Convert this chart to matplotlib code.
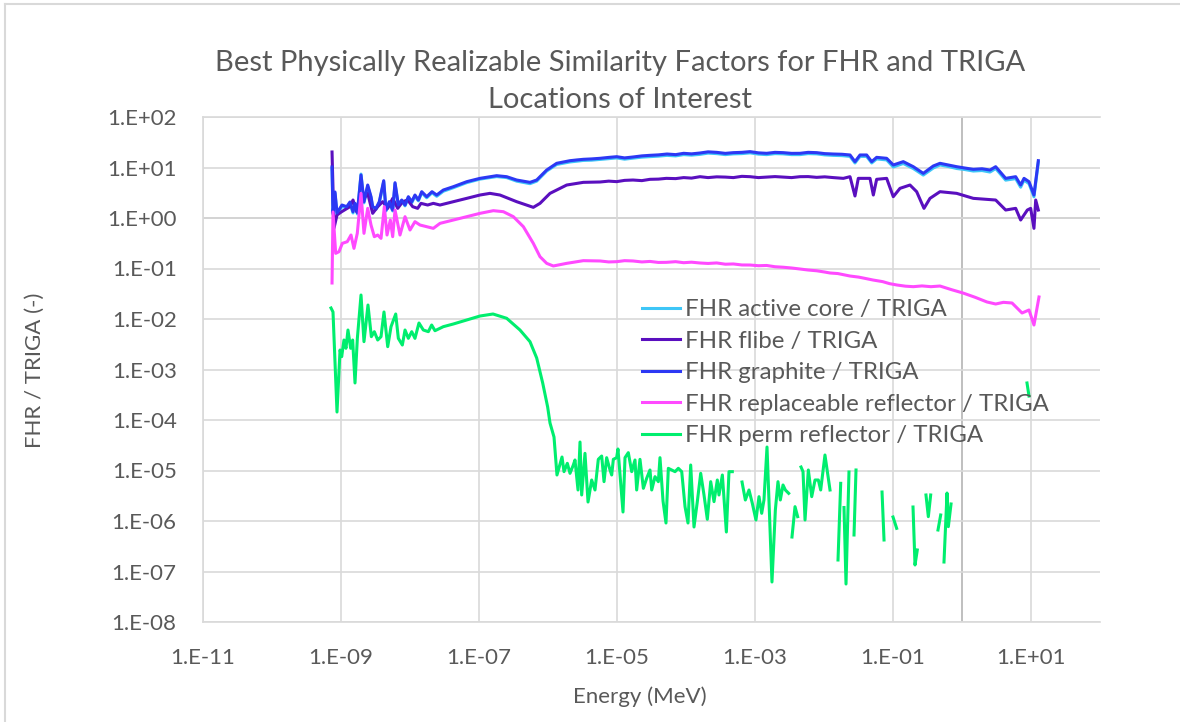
import numpy as np
import matplotlib
matplotlib.use('Agg')
import matplotlib.pyplot as plt
from matplotlib.ticker import FixedLocator, FuncFormatter, NullLocator
from matplotlib.lines import Line2D

plt.rcParams['font.family'] = ['Lato', 'DejaVu Sans']

# valores, em log10 (energia em MeV e razao FHR/TRIGA)
core_logE = [-9.130, -9.116, -9.087, -9.058, -8.986, -8.917, -8.870, -8.826, -8.797, -8.763,
             -8.710, -8.667, -8.613, -8.565, -8.541, -8.493, -8.445, -8.381, -8.348, -8.300,
             -8.251, -8.217, -8.169, -8.120, -8.072, -8.024, -7.975, -7.928, -7.879, -7.830,
             -7.758, -7.681, -7.613, -7.517, -7.372, -7.178, -6.986, -6.744, -6.599, -6.454,
             -6.261, -6.164, -6.019, -5.874, -5.681, -5.580, -5.488, -5.370, -5.246, -5.120,
             -5.005, -4.890, -4.768, -4.640, -4.522, -4.400, -4.275, -4.150, -4.034, -3.920,
             -3.797, -3.680, -3.555, -3.430, -3.314, -3.190, -3.072, -2.950, -2.831, -2.710,
             -2.590, -2.470, -2.348, -2.230, -2.106, -1.990, -1.865, -1.740, -1.623, -1.551,
             -1.478, -1.382, -1.309, -1.237, -1.092, -0.996, -0.851, -0.706, -0.561, -0.416,
             -0.319, -0.200, -0.077, 0.040, 0.164, 0.290, 0.406, 0.488, 0.633, 0.778,
             0.850, 0.899, 0.971, 1.043, 1.106]
graphite_logR = [1.010, 0.099, 0.515, 0.099, 0.257, 0.224, 0.317, 0.125, 0.291, 0.105,
                 0.851, 0.323, 0.653, 0.422, 0.224, 0.192, 0.323, 0.739, 0.158, 0.323,
                 0.158, 0.699, 0.257, 0.356, 0.257, 0.422, 0.323, 0.455, 0.356, 0.521,
                 0.422, 0.521, 0.455, 0.554, 0.620, 0.719, 0.785, 0.838, 0.818, 0.752,
                 0.706, 0.752, 0.950, 1.083, 1.135, 1.150, 1.162, 1.170, 1.182, 1.200,
                 1.214, 1.190, 1.208, 1.230, 1.241, 1.250, 1.267, 1.255, 1.281, 1.270,
                 1.287, 1.310, 1.300, 1.280, 1.294, 1.300, 1.314, 1.290, 1.281, 1.300,
                 1.294, 1.280, 1.281, 1.300, 1.294, 1.275, 1.267, 1.262, 1.248, 1.116,
                 1.248, 1.248, 1.116, 1.201, 1.182, 1.050, 1.116, 1.016, 0.884, 1.030,
                 1.083, 1.050, 1.016, 0.990, 0.964, 0.975, 0.950, 1.016, 0.785, 0.818,
                 0.653, 0.785, 0.719, 0.455, 1.135]
active_logR = [0.98, 0.07, 0.49, 0.07, 0.23, 0.20, 0.29, 0.10, 0.27, 0.08,
               0.87, 0.30, 0.63, 0.40, 0.20, 0.17, 0.30, 0.72, 0.14, 0.30,
               0.14, 0.68, 0.24, 0.34, 0.24, 0.40, 0.30, 0.43, 0.34, 0.50,
               0.40, 0.50, 0.43, 0.53, 0.60, 0.70, 0.77, 0.82, 0.80, 0.73,
               0.68, 0.73, 0.93, 1.06, 1.11, 1.125, 1.14, 1.145, 1.16, 1.175,
               1.19, 1.165, 1.185, 1.205, 1.215, 1.225, 1.24, 1.23, 1.255, 1.245,
               1.26, 1.285, 1.275, 1.255, 1.27, 1.275, 1.29, 1.265, 1.255, 1.275,
               1.27, 1.255, 1.255, 1.275, 1.27, 1.25, 1.24, 1.235, 1.22, 1.09,
               1.22, 1.22, 1.09, 1.17, 1.15, 1.01, 1.08, 0.98, 0.85, 0.99,
               1.05, 1.02, 0.98, 0.96, 0.93, 0.94, 0.91, 0.98, 0.75, 0.78,
               0.61, 0.75, 0.68, 0.42, 1.10]

flibe_logE = [-9.130, -9.101, -9.058, -8.990, -8.870, -8.826, -8.773, -8.700, -8.613, -8.541,
              -8.468, -8.396, -8.323, -8.251, -8.178, -8.106, -8.034, -7.961, -7.889, -7.841,
              -7.744, -7.662, -7.565, -7.372, -7.178, -6.986, -6.841, -6.696, -6.454, -6.213,
              -6.116, -5.971, -5.729, -5.488, -5.246, -5.120, -5.005, -4.890, -4.768, -4.640,
              -4.522, -4.400, -4.285, -4.150, -4.034, -3.920, -3.797, -3.680, -3.555, -3.430,
              -3.314, -3.190, -3.072, -2.950, -2.831, -2.710, -2.590, -2.470, -2.348, -2.230,
              -2.106, -1.990, -1.865, -1.720, -1.623, -1.551, -1.503, -1.333, -1.285, -1.237,
              -1.092, -0.996, -0.899, -0.754, -0.657, -0.551, -0.464, -0.319, -0.077, 0.164,
              0.488, 0.633, 0.778, 0.850, 0.947, 0.995, 1.043, 1.068, 1.106]
flibe_logR = [1.307, -0.198, 0.059, 0.125, 0.224, 0.356, 0.125, 0.323, 0.488, 0.092,
              0.224, 0.323, 0.191, 0.389, 0.191, 0.323, 0.356, 0.224, 0.191, 0.290,
              0.257, 0.290, 0.257, 0.323, 0.389, 0.455, 0.488, 0.455, 0.323, 0.211,
              0.290, 0.488, 0.653, 0.706, 0.713, 0.730, 0.720, 0.745, 0.752, 0.740,
              0.766, 0.770, 0.785, 0.780, 0.800, 0.790, 0.818, 0.800, 0.815, 0.810,
              0.800, 0.825, 0.818, 0.800, 0.810, 0.820, 0.810, 0.800, 0.818, 0.820,
              0.805, 0.815, 0.800, 0.785, 0.818, 0.436, 0.785, 0.785, 0.455, 0.766,
              0.785, 0.422, 0.587, 0.653, 0.521, 0.191, 0.389, 0.521, 0.488, 0.389,
              0.356, 0.158, 0.191, -0.040, 0.158, 0.191, -0.205, 0.356, 0.158]

repl_logE = [-9.130, -9.116, -9.077, -9.029, -8.981, -8.909, -8.855, -8.812, -8.764, -8.710,
             -8.667, -8.613, -8.565, -8.517, -8.468, -8.420, -8.372, -8.333, -8.285, -8.251,
             -8.217, -8.145, -8.072, -8.000, -7.928, -7.855, -7.758, -7.662, -7.565, -7.372,
             -7.178, -6.986, -6.792, -6.647, -6.502, -6.357, -6.213, -6.116, -6.019, -5.923,
             -5.729, -5.488, -5.246, -5.120, -5.005, -4.890, -4.768, -4.640, -4.522, -4.400,
             -4.285, -4.150, -4.034, -3.920, -3.797, -3.680, -3.555, -3.430, -3.314, -3.190,
             -3.072, -2.950, -2.831, -2.710, -2.590, -2.470, -2.348, -2.230, -2.106, -1.990,
             -1.913, -1.800, -1.623, -1.500, -1.390, -1.290, -1.150, -1.050, -0.942, -0.820,
             -0.706, -0.580, -0.450, -0.319, -0.150, 0.014, 0.190, 0.362, 0.488, 0.600,
             0.725, 0.870, 0.971, 1.043, 1.116]
repl_logR = [-1.287, 0.119, -0.700, -0.667, -0.502, -0.469, -0.337, -0.601, -0.304, 0.488,
             -0.304, 0.191, -0.139, -0.370, -0.337, -0.403, 0.224, -0.337, -0.040, -0.370,
             0.158, -0.337, 0.026, -0.238, -0.073, -0.139, -0.172, -0.205, -0.106, -0.040,
             0.026, 0.092, 0.145, 0.125, 0.026, -0.172, -0.502, -0.766, -0.898, -0.950,
             -0.898, -0.845, -0.851, -0.870, -0.865, -0.845, -0.851, -0.870, -0.860, -0.880,
             -0.878, -0.865, -0.885, -0.875, -0.891, -0.900, -0.890, -0.915, -0.910, -0.930,
             -0.931, -0.945, -0.940, -0.965, -0.975, -0.990, -1.010, -1.030, -1.045, -1.070,
             -1.089, -1.100, -1.149, -1.170, -1.200, -1.228, -1.260, -1.300, -1.327, -1.350,
             -1.360, -1.345, -1.360, -1.347, -1.420, -1.485, -1.570, -1.663, -1.703, -1.670,
             -1.683, -1.881, -1.822, -2.119, -1.564]

# None = ponto sem valor (linha interrompida)
perm_logE = [-9.145, -9.116, -9.058, -9.014, -8.990, -8.957, -8.928, -8.899, -8.860, -8.831,
             -8.797, -8.763, -8.710, -8.667, -8.609, -8.560, -8.517, -8.468, -8.420, -8.377,
             -8.323, -8.275, -8.207, -8.169, -8.111, -8.072, -8.024, -7.975, -7.928, -7.870,
             -7.807, -7.734, -7.686, -7.638, -7.517, -7.372, -7.178, -6.986, -6.797, -6.599,
             -6.406, -6.261, -6.164, -6.077, -6.005, -5.971, -5.913, -5.870, -5.797, -5.768,
             -5.720, -5.681, -5.633, -5.609, -5.565, -5.536, -5.512, -5.464, -5.420, -5.367,
             -5.319, -5.271, -5.222, -5.188, -5.150, -5.101, -5.077, -5.053, -5.005, -4.986,
             -4.913, -4.884, -4.836, -4.787, -4.739, -4.715, -4.667, -4.618, -4.570, -4.522,
             -4.497, -4.449, -4.401, -4.377, -4.333, -4.290, -4.256, -4.208, -4.159, -4.111,
             -4.062, -4.014, -3.971, -3.932, -3.884, -3.836, -3.787, -3.739, -3.691, -3.642,
             -3.594, -3.546, -3.522, -3.473, -3.415, -3.377, -3.329, None, -3.188, -3.140,
             -3.087, -3.039, -2.986, -2.942, -2.903, -2.870, -2.826, -2.754, -2.705, -2.667,
             -2.633, -2.594, -2.560, -2.512, None, -2.464, -2.420, -2.382, None, -2.333,
             -2.304, -2.275, -2.227, -2.178, -2.130, -2.082, -2.048, -1.986, -1.913, None,
             -1.797, -1.758, None, -1.710, -1.681, -1.638, None, -1.565, -1.536, None,
             -1.159, -1.130, None, -1.000, -0.947, None, -0.710, -0.681, -0.648, None,
             -0.522, -0.488, -0.454, None, -0.348, -0.309, None, -0.261, -0.217, -0.198,
             -0.159, None, 0.942, 0.971]
perm_logR = [-1.782, -1.861, -3.842, -2.614, -2.746, -2.416, -2.580, -2.218, -2.580, -2.416,
             -3.267, -2.382, -1.525, -2.449, -1.723, -2.350, -2.251, -2.416, -2.350, -1.861,
             -2.548, -2.152, -1.901, -2.383, -2.515, -2.218, -2.383, -2.251, -2.383, -2.079,
             -2.218, -2.251, -2.119, -2.232, -2.152, -2.099, -2.020, -1.941, -1.901, -1.986,
             -2.218, -2.449, -2.772, -3.267, -3.743, -4.059, -4.337, -5.089, -4.733, -5.023,
             -4.858, -5.056, -4.891, -4.792, -5.386, -4.436, -5.485, -4.660, -5.624, -5.188,
             -5.386, -4.779, -4.713, -5.221, -4.746, -4.990, -5.089, -4.779, -4.746, -4.574,
             -5.822, -4.746, -4.647, -5.023, -4.792, -5.386, -4.779, -5.353, -5.155, -4.990,
             -5.386, -5.122, -5.221, -4.746, -5.604, -6.040, -4.957, -4.990, -5.023, -4.957,
             -5.023, -5.716, -6.040, -4.891, -6.119, -5.617, -5.056, -5.485, -5.967, -5.221,
             -5.617, -5.188, -5.485, -5.089, -6.218, -5.023, -5.023, None, -5.228, -5.584,
             -5.386, -5.650, -5.980, -5.518, -5.848, -5.584, -4.535, -7.208, -5.782, -5.221,
             -5.584, -5.287, -5.386, -5.452, None, -6.317, -5.716, -5.914, None, -4.931,
             -5.023, -5.980, -4.990, -5.518, -5.188, -5.188, -5.386, -4.693, -5.386, None,
             -6.772, -5.254, None, -5.733, -7.248, -5.030, None, -6.277, -4.990, None,
             -5.426, -6.376, None, -5.921, -6.145, None, -5.723, -6.871, -6.574, None,
             -5.485, -5.914, -5.485, None, -6.178, -5.881, None, -6.812, -5.446, -6.112,
             -5.663, None, -3.267, -3.525]

labels = ['FHR active core / TRIGA', 'FHR flibe / TRIGA', 'FHR graphite / TRIGA',
          'FHR replaceable reflector / TRIGA', 'FHR perm reflector / TRIGA']
cores = ['#3EC6F7', '#5A0FBF', '#2C38F4', '#FF4AFF', '#00EE6E']

series = [(core_logE, active_logR), (flibe_logE, flibe_logR), (core_logE, graphite_logR),
          (repl_logE, repl_logR), (perm_logE, perm_logR)]

cinza = '#595959'
fig = plt.figure(figsize=(11.8, 7.22), dpi=100)
ax = fig.add_axes([203/1180, 1-622/722, 897/1180, 505/722])

for (le, lr), lab, c in zip(series, labels, cores):
    x = 10 ** np.array(le, dtype=float)
    y = 10 ** np.array(lr, dtype=float)
    ax.plot(x, y, color=c, lw=2.2, label=lab, solid_joinstyle='round')

ax.set_xscale('log')
ax.set_yscale('log')
ax.set_xlim(1e-11, 1e2)
ax.set_ylim(1e-8, 1e2)

xt = [10.0 ** k for k in range(-11, 2, 2)]
yt = [10.0 ** k for k in range(-8, 3)]
ax.xaxis.set_major_locator(FixedLocator(xt))
ax.yaxis.set_major_locator(FixedLocator(yt))
ax.xaxis.set_minor_locator(NullLocator())
ax.yaxis.set_minor_locator(NullLocator())
fmt = FuncFormatter(lambda v, p: '1.E%+03d' % int(round(np.log10(v))))
ax.xaxis.set_major_formatter(fmt)
ax.yaxis.set_major_formatter(fmt)
ax.tick_params(length=0, pad=19, labelsize=16, labelcolor=cinza)

ax.grid(True, color='#D9D9D9', lw=1.2)
ax.set_axisbelow(True)
# linhas dos eixos cruzando em 1
ax.axvline(1, color='#BFBFBF', lw=1.4, zorder=0.5)
ax.axhline(1, color='#BFBFBF', lw=1.4, zorder=0.5)
for s in ['left', 'top', 'bottom']:
    ax.spines[s].set_color('#D9D9D9')
    ax.spines[s].set_linewidth(1.2)
ax.spines['right'].set_visible(False)

fig.text(620/1180, 1-63/722, 'Best Physically Realizable Similarity Factors for FHR and TRIGA',
         ha='center', va='center', fontsize=21, color=cinza)
fig.text(620/1180, 1-100/722, 'Locations of Interest',
         ha='center', va='center', fontsize=21, color=cinza)
fig.text(35/1180, 1-370/722, 'FHR / TRIGA (-)', rotation=90, ha='center', va='center',
         fontsize=16, color=cinza)
fig.text(640/1180, 1-697/722, 'Energy (MeV)', ha='center', va='center',
         fontsize=16, color=cinza)

leg = ax.legend(loc='upper left', bbox_to_anchor=(642/1180, 1-299/722),
                bbox_transform=fig.transFigure, frameon=False, fontsize=17.3,
                handlelength=1.6, handletextpad=0.17, labelspacing=0.44,
                borderpad=0, borderaxespad=0)
for t in leg.get_texts():
    t.set_color(cinza)

# moldura da area do grafico (cortada a direita e embaixo)
fig.add_artist(Line2D([5/1180, 5/1180], [0, 1-4/722], transform=fig.transFigure,
                      color='#D9D9D9', lw=1.5))
fig.add_artist(Line2D([5/1180, 1], [1-4/722, 1-4/722], transform=fig.transFigure,
                      color='#D9D9D9', lw=1.5))

fig.savefig('out.png', dpi=100)
